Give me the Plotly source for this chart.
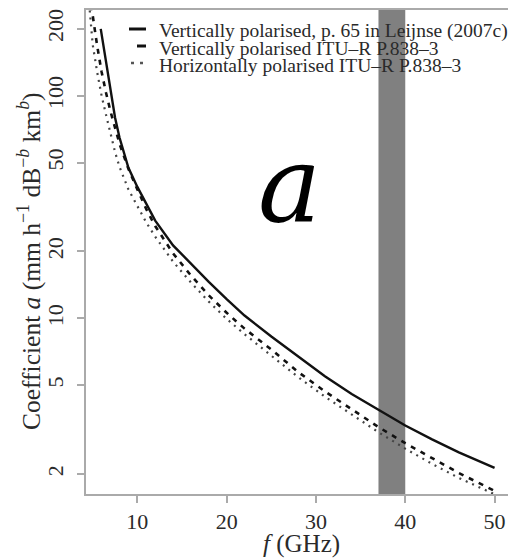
import plotly.graph_objects as go

# ---------------- data ----------------
leijnse_f = [5.9, 6.5, 7, 7.5, 8, 8.5, 9, 10, 11, 12, 14, 16, 18, 20, 22, 25, 28, 31, 34, 37, 40, 43, 46, 50]
leijnse_a = [200, 140, 105, 80, 65, 55, 47.5, 39, 32.5, 27.5, 21.3, 17.6, 14.6, 12.2, 10.3, 8.3, 6.75, 5.5, 4.57, 3.9, 3.3, 2.86, 2.5, 2.13]

itu_v_f = [4.8, 5, 5.5, 6, 6.5, 7, 8, 9, 10, 11, 12, 14, 16, 18, 20, 22, 25, 28, 31, 34, 37, 40, 43, 46, 50]
itu_v_a = [255, 230, 168, 128, 103, 85, 61, 47, 38, 31, 26, 19.6, 15.6, 12.7, 10.6, 9.0, 7.25, 5.75, 4.7, 3.9, 3.25, 2.75, 2.35, 2.02, 1.68]

itu_h_f = [4.6, 5, 5.5, 6, 6.5, 7, 7.5, 8, 9, 10, 11, 12, 14, 16, 18, 20, 22, 25, 28, 31, 34, 37, 40, 43, 46, 50]
itu_h_a = [260, 170, 128, 100, 82, 68, 56, 48, 38, 32, 27, 23.3, 18.0, 14.5, 11.9, 9.95, 8.5, 6.8, 5.45, 4.45, 3.7, 3.08, 2.6, 2.22, 1.92, 1.62]

band_f = [37, 40]

series_names = [
    "Vertically polarised, p. 65 in Leijnse (2007c)",
    "Vertically polarised ITU\u2013R P.838\u20133",
    "Horizontally polarised ITU\u2013R P.838\u20133",
]

x_ticks = [10, 20, 30, 40, 50]
y_ticks = [2, 5, 10, 20, 50, 100, 200]

x_title = "<i>f</i> (GHz)"
y_title = "Coefficient <i>a</i> (mm h<sup>\u22121</sup> dB<sup>\u2212<i>b</i></sup> km<sup><i>b</i></sup>)"

# ---------------- layout geometry ----------------
# the page body has an 8px margin, so the figure is drawn 8px in from the window corner
OFF = 8
W, H = 516 - OFF, 559 - OFF
ML, MR, MT, MB = 86 - OFF, 0, 10 - OFF, 559 - 494
PW, PH = W - ML - MR, H - MT - MB

def px(x_page):
    return (x_page - OFF - ML) / PW

def py(y_page):
    return (H - MB - (y_page - OFF)) / PH

FONT = "Liberation Serif"
TXT = "#2a2a2a"
AX = "#aaaaaa"

fig = go.Figure()

fig.add_trace(go.Scatter(x=leijnse_f, y=leijnse_a, mode="lines", name=series_names[0],
                         line=dict(color="#111111", width=2.4), showlegend=False))
fig.add_trace(go.Scatter(x=itu_v_f, y=itu_v_a, mode="lines", name=series_names[1],
                         line=dict(color="#111111", width=2.6, dash="5px,6px"), showlegend=False))
fig.add_trace(go.Scatter(x=itu_h_f, y=itu_h_a, mode="lines", name=series_names[2],
                         line=dict(color="#444444", width=2.2, dash="2px,5px"), showlegend=False))

# grey frequency band
fig.add_shape(type="rect", xref="x", yref="paper", x0=band_f[0], x1=band_f[1], y0=0, y1=1,
              fillcolor="#808080", line=dict(width=0), layer="below")

# custom legend (R style)
sym_rows = [29, 46, 63]
txt_rows = [31, 48.5, 66]
fig.add_shape(type="line", xref="paper", yref="paper", x0=px(129), x1=px(146),
              y0=py(sym_rows[0]), y1=py(sym_rows[0]), line=dict(color="#111111", width=3))
fig.add_shape(type="line", xref="paper", yref="paper", x0=px(137), x1=px(146),
              y0=py(sym_rows[1]), y1=py(sym_rows[1]), line=dict(color="#111111", width=3))
fig.add_shape(type="line", xref="paper", yref="paper", x0=px(131), x1=px(145),
              y0=py(sym_rows[2]), y1=py(sym_rows[2]), line=dict(color="#555555", width=2.5, dash="3px,6px"))
for name, yy in zip(series_names, txt_rows):
    fig.add_annotation(text=name, xref="paper", yref="paper", x=px(157), y=py(yy),
                       xanchor="left", yanchor="middle", showarrow=False,
                       font=dict(family=FONT, size=19.5, color=TXT))

# big italic "a" label
fig.add_annotation(text="<i>a</i>", xref="paper", yref="paper", x=px(289), y=py(185),
                   xanchor="center", yanchor="middle", showarrow=False,
                   font=dict(family="DejaVu Serif", size=106, color="#000000"))

# axis titles
fig.add_annotation(text=x_title, xref="paper", yref="paper", x=px(301), y=py(544),
                   xanchor="center", yanchor="middle", showarrow=False,
                   font=dict(family=FONT, size=25, color=TXT))
fig.add_annotation(text=y_title, xref="paper", yref="paper", x=px(29), y=py(261),
                   xanchor="center", yanchor="middle", showarrow=False, textangle=-90,
                   font=dict(family=FONT, size=25.5, color=TXT))

fig.update_layout(
    width=W, height=H,
    margin=dict(l=ML, r=MR, t=MT, b=MB),
    paper_bgcolor="white", plot_bgcolor="white",
    font=dict(family=FONT, color=TXT),
    showlegend=False,
    xaxis=dict(range=[4.25, 52.4], tickvals=x_ticks, ticktext=[str(v) for v in x_ticks],
               automargin=False,
               showgrid=False, zeroline=False, showline=True, linecolor=AX, linewidth=2,
               mirror=True, ticks="outside", ticklen=7, tickcolor=AX, tickwidth=1.5,
               tickfont=dict(family=FONT, size=22, color=TXT)),
    yaxis=dict(type="log", range=[0.211, 2.386], tickvals=y_ticks, ticktext=[str(v) for v in y_ticks],
               automargin=False,
               showgrid=False, zeroline=False, showline=True, linecolor=AX, linewidth=2,
               mirror=False, ticks="outside", ticklen=7, tickcolor=AX, tickwidth=1.5, tickangle=-90,
               ticklabelstandoff=5,
               tickfont=dict(family=FONT, size=22, color=TXT)),
)

fig.write_html("out.html")
